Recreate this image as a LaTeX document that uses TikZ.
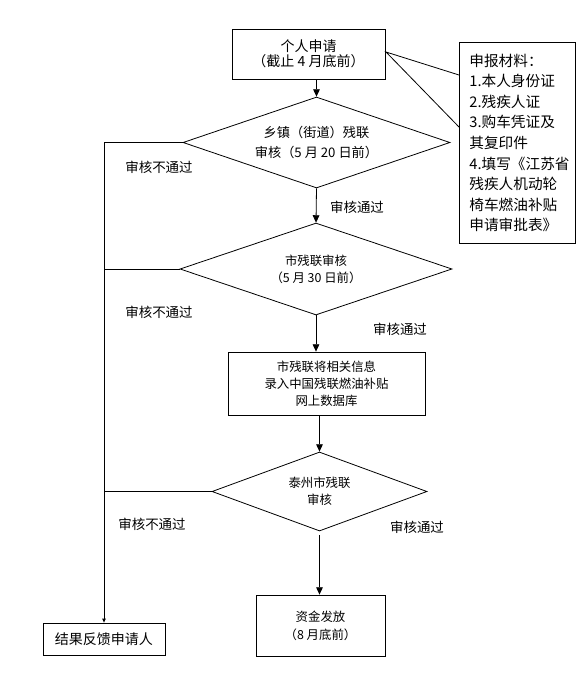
\documentclass[tikz,border=0pt]{standalone}
\usepackage{fontspec}
\setmainfont{Noto Sans CJK SC}
\usetikzlibrary{arrows.meta,shapes.geometric}
\newcommand\fbig{\fontsize{10.5pt}{11.25pt}\selectfont}
\newcommand\fdia{\fontsize{9.9pt}{15pt}\selectfont}
\newcommand\fsm{\fontsize{9.3pt}{12.75pt}\selectfont}
\newcommand\fsmb{\fontsize{9.3pt}{13.5pt}\selectfont}
\newcommand\fnote{\fontsize{11pt}{15.45pt}\selectfont}
\newcommand\flab{\fontsize{10.1pt}{12pt}\selectfont}
\begin{document}
\begin{tikzpicture}[x=0.75pt,y=-0.75pt,
  every path/.style={line width=0.6pt},
  box/.style={draw, rectangle, inner sep=0pt, align=center},
  dia/.style={draw, diamond, aspect=3, inner sep=0pt, align=center},
  arr/.style={-{Triangle[length=5.5pt,width=5pt]}},
  sarr/.style={-{Triangle[length=3pt,width=2.6pt]}},
  lab/.style={font=\flab, inner sep=0pt}]
\useasboundingbox (0,0) rectangle (576,693);
\fill[white] (0,0) rectangle (576,693);

\node[box, font=\fbig, minimum width=153*0.75pt, minimum height=50*0.75pt] (b1) at (308.5,54)
  {个人申请\\（截止 4 月底前）};
\node[dia, font=\fdia, minimum width=267*0.75pt, minimum height=91*0.75pt] (d1) at (316.5,142.5)
  {乡镇（街道）残联\\审核（5 月 20 日前）};
\node[dia, font=\fsm, minimum width=272*0.75pt, minimum height=92*0.75pt] (d2) at (316,269)
  {市残联审核\\（5 月 30 日前）};
\node[box, font=\fsm, minimum width=197*0.75pt, minimum height=63*0.75pt] (b3) at (326.5,383.5)
  {市残联将相关信息\\录入中国残联燃油补贴\\网上数据库};
\node[dia, font=\fsm, minimum width=215*0.75pt, minimum height=79*0.75pt] (d3) at (319.5,491.5)
  {泰州市残联\\审核};
\node[box, font=\fsmb, minimum width=129*0.75pt, minimum height=61*0.75pt] (b4) at (320.5,625.5)
  {资金发放\\（8 月底前）};
\node[box, font=\fbig, minimum width=122*0.75pt, minimum height=32*0.75pt] (b5) at (104,639)
  {结果反馈申请人};

% callout lines
\coordinate (cp) at (386,52);
\coordinate (n1) at (459,75);
\coordinate (n2) at (459,127);
\draw (n1) -- (cp) -- (n2);
\node[box, fill=white, font=\fnote, anchor=north west, minimum width=116*0.75pt, minimum height=201*0.75pt,
  text width=96*0.75pt, align=left] (note) at (459,42)
  {申报材料：\\1.本人身份证\\2.残疾人证\\3.购车凭证及\\其复印件\\4.填写《江苏省\\残疾人机动轮\\椅车燃油补贴\\申请审批表》};

% main flow
\draw[arr] (b1.south -| d1.north) -- (d1.north);
\draw[arr] (d1.south) -- (d2.north);
\draw[arr] (d2.south) -- (d2.south |- b3.north);
\draw[arr] (b3.south -| d3.north) -- (d3.north);
\draw[arr, shorten <=3pt] (d3.south) -- (d3.south |- b4.north);

% rejection path
\draw (d1.west) -- (d1.west -| b5.north);
\draw (d2.west) -- (d2.west -| b5.north);
\draw (d3.west) -- (d3.west -| b5.north);
\draw[sarr] (d1.west -| b5.north) -- (b5.north);

% labels
\node[lab] (r1) at (159,167) {审核不通过};
\node[lab] (r2) at (159,312) {审核不通过};
\node[lab] (r3) at (152,524) {审核不通过};
\node[lab] (p1) at (357,207) {审核通过};
\node[lab] (p2) at (400,329) {审核通过};
\node[lab] (p3) at (417,527) {审核通过};
\end{tikzpicture}
\end{document}
